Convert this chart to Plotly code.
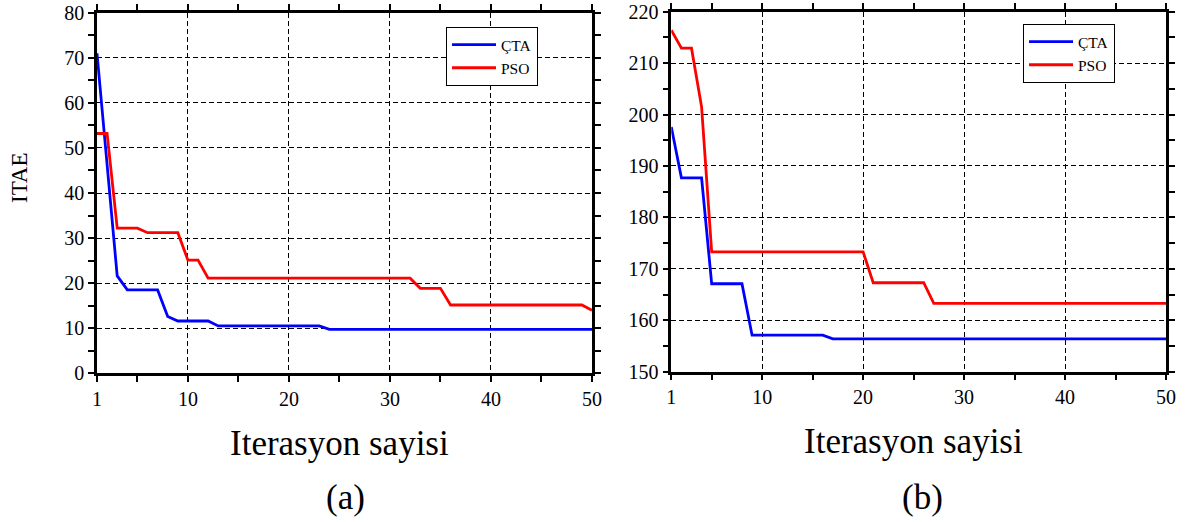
import plotly.graph_objects as go

# Iteration index shared by both panels
iterations = list(range(1, 51))

# Panel (a): ITAE convergence
cta_a = ([71.0, 46.3, 21.6] + [18.5] * 4 + [12.6] + [11.6] * 4 +
         [10.5] * 11 + [9.75] * 27)
pso_a = ([53.2] * 2 + [32.2] * 3 + [31.2] * 4 + [25.1] * 2 +
         [21.1] * 21 + [18.85] * 3 + [15.15] * 14 + [14.0])

# Panel (b): ITAE convergence
cta_b = ([197.6] + [187.7] * 3 + [167.1] * 4 + [157.1] * 8 + [156.4] * 34)
pso_b = ([216.4] + [212.9] * 2 + [201.5] + [173.3] * 16 + [167.3] * 6 +
         [163.3] * 24)

x_ticks = [1, 10, 20, 30, 40, 50]
x_minor = [5, 15, 25, 35, 45]
series_names = ["ÇTA", "PSO"]
series_colors = ["#0000FF", "#FF0000"]

W, H = 1186, 522
FONT = "Liberation Serif"

fig = go.Figure()

panels = [
    (cta_a, pso_a, "x", "y", "legend"),
    (cta_b, pso_b, "x2", "y2", "legend2"),
]
for cta, pso, xa, ya, lg in panels:
    for vals, name, color in zip([cta, pso], series_names, series_colors):
        fig.add_trace(go.Scatter(
            x=iterations, y=vals, mode="lines", name=name,
            line=dict(color=color, width=2.8),
            xaxis=xa, yaxis=ya, legend=lg,
        ))


def px_x(p):
    return p / W


def px_y(p):
    return 1 - p / H


axis_common = dict(
    showline=True, linecolor="black", linewidth=2.5, mirror="allticks",
    ticks="outside", ticklen=6, tickwidth=2, tickcolor="black",
    showgrid=True, gridcolor="black", gridwidth=1, griddash="5px,3px",
    zeroline=False, automargin=False,
    tickfont=dict(family=FONT, size=20, color="black"),
)

xaxis_common = dict(
    axis_common, range=[1, 50], tickmode="array", tickvals=x_ticks,
    minor=dict(tickmode="array", tickvals=x_minor, ticks="outside",
               ticklen=6, tickwidth=2, tickcolor="black", showgrid=False),
)

legend_common = dict(
    xanchor="left", yanchor="top", bordercolor="black", borderwidth=1,
    bgcolor="white", font=dict(family=FONT, size=15.5, color="black"),
    tracegroupgap=0, itemwidth=44,
)

fig.update_layout(
    width=W, height=H,
    margin=dict(l=0, r=0, t=0, b=0, autoexpand=False),
    paper_bgcolor="white", plot_bgcolor="white",
    font=dict(family=FONT, color="black"),
    xaxis=dict(xaxis_common, domain=[px_x(97), px_x(592)], anchor="y"),
    yaxis=dict(axis_common, domain=[px_y(373.3), px_y(12.7)], anchor="x",
               range=[0, 80], dtick=10, tick0=0,
               minor=dict(dtick=5, tick0=0, ticks="outside", ticklen=6,
                          tickwidth=2, tickcolor="black", showgrid=False)),
    xaxis2=dict(xaxis_common, domain=[px_x(671.3), px_x(1166)], anchor="y2"),
    yaxis2=dict(axis_common, domain=[px_y(371.7), px_y(11.7)], anchor="x2",
                range=[150, 220], dtick=10, tick0=150,
                minor=dict(dtick=5, tick0=150, ticks="outside", ticklen=6,
                           tickwidth=2, tickcolor="black", showgrid=False)),
    legend=dict(legend_common, x=px_x(446), y=px_y(27)),
    legend2=dict(legend_common, x=px_x(1023), y=px_y(24)),
    showlegend=True,
)

big = dict(family=FONT, size=35, color="black")
annotations = [
    dict(text="ITAE", x=px_x(19), y=px_y(178), textangle=-90,
         font=dict(family=FONT, size=23, color="black")),
    dict(text="Iterasyon sayisi", x=px_x(339), y=px_y(443), font=big),
    dict(text="(a)", x=px_x(345), y=px_y(497), font=big),
    dict(text="Iterasyon sayisi", x=px_x(913), y=px_y(441), font=big),
    dict(text="(b)", x=px_x(922), y=px_y(497), font=big),
]
for a in annotations:
    fig.add_annotation(xref="paper", yref="paper", showarrow=False,
                       xanchor="center", yanchor="middle", **a)

fig.write_html("out.html")
